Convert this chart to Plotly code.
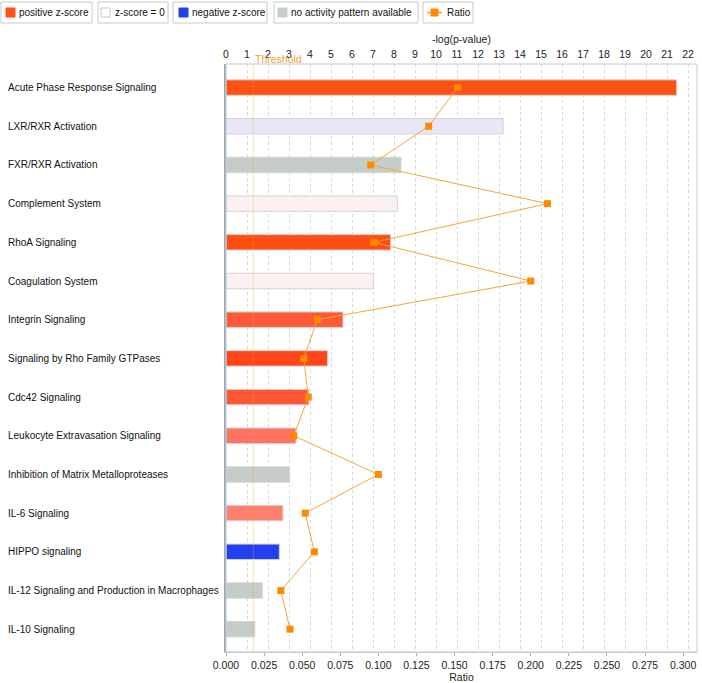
import plotly.graph_objects as go

# ---------------- data ----------------
pathways = [
    "Acute Phase Response Signaling",
    "LXR/RXR Activation",
    "FXR/RXR Activation",
    "Complement System",
    "RhoA Signaling",
    "Coagulation System",
    "Integrin Signaling",
    "Signaling by Rho Family GTPases",
    "Cdc42 Signaling",
    "Leukocyte Extravasation Signaling",
    "Inhibition of Matrix Metalloproteases",
    "IL-6 Signaling",
    "HIPPO signaling",
    "IL-12 Signaling and Production in Macrophages",
    "IL-10 Signaling",
]
neg_log_p = [21.46, 13.2, 8.33, 8.16, 7.84, 7.03, 5.57, 4.84, 3.95, 3.33, 3.03, 2.71, 2.54, 1.73, 1.37]
ratio = [0.152, 0.133, 0.095, 0.211, 0.097, 0.200, 0.060, 0.051, 0.054, 0.0445, 0.100, 0.052, 0.058, 0.036, 0.042]
bar_colors = [
    "#FF5212", "#E9E6F8", "#C5CDC9", "#FDF0F0", "#FF4E12",
    "#FDF0F0", "#FF5A38", "#FF4519", "#FF5636", "#FF7363",
    "#C5CDC9", "#FF806F", "#2340F0", "#C5CDC9", "#C5CDC9",
]
THRESHOLD = 1.3
top_ticks = list(range(0, 23))
ratio_ticks = [0.0, 0.025, 0.05, 0.075, 0.1, 0.125, 0.15, 0.175, 0.2, 0.225, 0.25, 0.275, 0.3]
legend_items = ["positive z-score", "z-score = 0", "negative z-score", "no activity pattern available", "Ratio"]

# ---------------- geometry helpers (pixels -> paper) ----------------
W, H = 702, 683
L, R, T, B = 226, 5, 64, 31
PW, PH = W - L - R, H - T - B


def px(x):
    return (x - L) / PW


def py(y):
    return (H - B - y) / PH


FONT = "Liberation Sans, Arial, sans-serif"
idx = list(range(len(pathways)))

fig = go.Figure()
fig.add_trace(go.Bar(
    x=neg_log_p, y=idx, orientation="h", xaxis="x", yaxis="y",
    marker=dict(color=bar_colors, line=dict(color="#D4D4D4", width=1)),
    width=0.4, showlegend=False, name="-log(p-value)",
))
fig.add_trace(go.Scatter(
    x=ratio, y=idx, xaxis="x2", yaxis="y", mode="lines+markers",
    line=dict(color="#F6A53C", width=1),
    marker=dict(symbol="square", size=7, color="#FF8A00"),
    showlegend=False, name="Ratio",
))

xmax_top = PW / 21.0
xmax_ratio = (L + PW - 225) / 1527.0

fig.update_layout(
    width=W, height=H,
    margin=dict(l=L, r=R, t=T, b=B, autoexpand=False),
    paper_bgcolor="white", plot_bgcolor="white",
    font=dict(family=FONT, size=10, color="#222"),
    bargap=0.6,
    xaxis=dict(
        side="top", range=[0, xmax_top], tickvals=top_ticks,
        showgrid=True, gridcolor="#D3D9DE", griddash="dot", gridwidth=1,
        zeroline=False, showline=False, ticks="", ticklabelstandoff=3,
        tickfont=dict(size=10.5, color="#222"),
        title=dict(text="-log(p-value)", font=dict(size=10.5, color="#222"), standoff=2),
        automargin=False,
    ),
    xaxis2=dict(
        side="bottom", overlaying="x", anchor="y", range=[0, xmax_ratio],
        tickvals=ratio_ticks, tickformat=".3f", showgrid=False, zeroline=False,
        showline=True, linecolor="#C3CBD1", linewidth=1,
        ticks="outside", ticklen=3, tickcolor="#A8B2BA",
        tickfont=dict(size=10.5, color="#222"),
        title=dict(text="Ratio", font=dict(size=10.5, color="#222"), standoff=2),
        automargin=False,
    ),
    yaxis=dict(
        range=[len(pathways) - 1 + 0.59, -0.61], showticklabels=False,
        showgrid=False, zeroline=False, showline=True, linecolor="#9AA9B6", linewidth=2,
        ticks="", automargin=False,
    ),
)

shapes = []
annotations = []
# plot frame (top / right)
shapes.append(dict(type="rect", xref="paper", yref="paper", x0=0, x1=1, y0=0, y1=1,
                   line=dict(color="#C3CBD1", width=1), fillcolor="rgba(0,0,0,0)", layer="above"))
# threshold line
shapes.append(dict(type="line", xref="x", yref="paper", x0=THRESHOLD, x1=THRESHOLD, y0=0, y1=1,
                   line=dict(color="rgba(246,165,60,0.35)", width=1), layer="above"))
annotations.append(dict(text="Threshold", xref="x", yref="paper", x=THRESHOLD, y=py(59),
                        xanchor="left", yanchor="middle", showarrow=False,
                        font=dict(size=10.5, color="#F5A040")))

# category labels (left aligned)
for i, name in enumerate(pathways):
    annotations.append(dict(text=name, xref="paper", yref="y", x=px(6), y=i,
                            xanchor="left", yanchor="middle", showarrow=False,
                            font=dict(size=10, color="#111")))

# custom boxed legend
boxes = [(1, 92), (98, 168), (173, 267), (274, 418), (423, 473)]
swatch_x = [6, 101, 179, 278, None]
text_x = [17, 113, 190, 289, 445]
sw_fill = ["#FF5212", "#FFFFFF", "#2340F0", "#C5CDC9", None]
sw_line = ["#FF5212", "#C8C8C8", "#2340F0", "#C5CDC9", None]
for k, label in enumerate(legend_items):
    x0, x1 = boxes[k]
    shapes.append(dict(type="rect", xref="paper", yref="paper", x0=px(x0), x1=px(x1),
                       y0=py(23), y1=py(2), line=dict(color="#C9C9C9", width=1), fillcolor="white"))
    if swatch_x[k] is not None:
        sx = swatch_x[k]
        shapes.append(dict(type="rect", xref="paper", yref="paper", x0=px(sx), x1=px(sx + 9),
                           y0=py(17), y1=py(8), line=dict(color=sw_line[k], width=1), fillcolor=sw_fill[k]))
    else:
        shapes.append(dict(type="line", xref="paper", yref="paper", x0=px(427), x1=px(442),
                           y0=py(12.5), y1=py(12.5), line=dict(color="#F6A53C", width=1.5)))
        shapes.append(dict(type="rect", xref="paper", yref="paper", x0=px(431), x1=px(438),
                           y0=py(16), y1=py(9), line=dict(color="#FF8A00", width=1), fillcolor="#FF8A00"))
    annotations.append(dict(text=label, xref="paper", yref="paper", x=px(text_x[k]), y=py(12.5),
                            xanchor="left", yanchor="middle", showarrow=False,
                            font=dict(size=10, color="#111")))

fig.update_layout(shapes=shapes, annotations=annotations)
fig.write_html("out.html", config={"displayModeBar": False},
               post_script="document.body.style.margin='0px';")
